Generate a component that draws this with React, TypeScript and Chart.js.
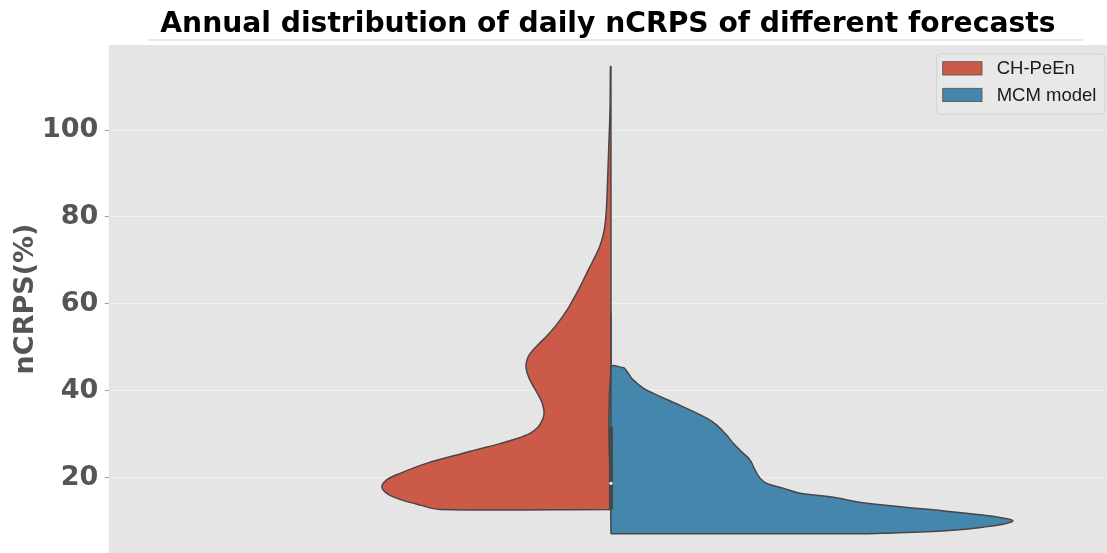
import React, { useEffect, useRef } from 'react';
import { Chart, registerables } from 'chart.js';

Chart.register(...registerables);

// ---- data ----
const yTickValues = [20, 40, 60, 80, 100];
const seriesNames = ['CH-PeEn', 'MCM model'];
const seriesColors = ['#CC5A49', '#4586AC'];

// CH-PeEn half-violin outline (left side): nCRPS level and scaled density
const chPeEnLevels = [12.7, 12.7, 13.7, 15.0, 16.4, 17.9, 19.5, 21.0, 23.3, 25.6, 26.4, 27.9, 29.0, 30.2, 31.5, 32.9, 34.3, 35.6, 37.3, 39.0, 40.8, 42.5, 44.0, 45.5, 47.0, 48.3, 49.6, 50.9, 52.8, 54.7, 57.0, 59.3, 61.3, 63.2, 65.5, 68.5, 70.8, 73.1, 75.4, 77.7, 81.6, 89.3, 96.9, 104.6, 110.0, 114.6, 114.6, 12.7];
const chPeEnDensity = [0, 0.747, 0.834, 0.921, 0.979, 1.0, 0.979, 0.921, 0.805, 0.646, 0.59, 0.48, 0.41, 0.354, 0.321, 0.303, 0.293, 0.293, 0.301, 0.317, 0.336, 0.354, 0.365, 0.371, 0.367, 0.356, 0.336, 0.312, 0.277, 0.245, 0.212, 0.183, 0.162, 0.142, 0.12, 0.092, 0.07, 0.05, 0.036, 0.027, 0.02, 0.014, 0.009, 0.004, 0.003, 0.002, 0, 0];

// MCM model half-violin outline (right side)
const mcmLevels = [7.1, 7.1, 7.3, 7.6, 8.0, 8.6, 9.3, 10.1, 10.8, 11.4, 12.6, 14.1, 15.6, 16.4, 17.6, 18.7, 19.9, 21.8, 24.1, 25.6, 27.9, 29.8, 32.1, 33.7, 36.3, 39.4, 40.6, 42.5, 44.0, 45.0, 45.3, 45.3, 7.1];
const mcmDensity = [0, 1.092, 1.232, 1.406, 1.52, 1.624, 1.712, 1.755, 1.703, 1.624, 1.406, 1.118, 0.956, 0.825, 0.752, 0.68, 0.651, 0.629, 0.607, 0.578, 0.534, 0.505, 0.462, 0.418, 0.316, 0.185, 0.141, 0.097, 0.076, 0.062, 0.055, 0, 0];

// inner box (combined)
const boxRange = [12.7, 31.7];
const whiskerRange = [31.7, 57.9];
const medianValue = [18.7];

const OUTLINE = '#474747';

const decorPlugin = {
  id: 'decor',
  beforeDraw(chart: any) {
    const { ctx, chartArea: a, width, height } = chart;
    ctx.save();
    ctx.fillStyle = '#ffffff';
    ctx.fillRect(0, 0, width, height);
    ctx.fillStyle = '#e5e5e5';
    ctx.fillRect(a.left, a.top, a.right - a.left, a.bottom - a.top);
    ctx.strokeStyle = '#e2e2e2';
    ctx.lineWidth = 1.5;
    ctx.beginPath();
    ctx.moveTo(a.left + 39.3, a.top - 5);
    ctx.lineTo(a.right - 24, a.top - 5);
    ctx.stroke();
    ctx.restore();
  },
  afterDraw(chart: any) {
    const { ctx, chartArea: a } = chart;
    const bw = 168.3;
    const bh = 60;
    const bx = a.right - bw - 2;
    const by = a.top + 9;
    ctx.save();
    ctx.beginPath();
    (ctx as any).roundRect(bx, by, bw, bh, 4);
    ctx.fillStyle = '#e8e8e8';
    ctx.fill();
    ctx.strokeStyle = '#d2d2d2';
    ctx.lineWidth = 1;
    ctx.stroke();
    seriesNames.forEach((name, i) => {
      const sy = by + 7.7 + i * 26.6;
      ctx.fillStyle = seriesColors[i];
      ctx.fillRect(bx + 6, sy, 39.3, 13.3);
      ctx.strokeStyle = '#505050';
      ctx.lineWidth = 0.8;
      ctx.strokeRect(bx + 6, sy, 39.3, 13.3);
      ctx.fillStyle = '#1a1a1a';
      ctx.font = '18.5px "Liberation Sans", Arial, sans-serif';
      ctx.textBaseline = 'middle';
      ctx.textAlign = 'left';
      ctx.fillText(name, bx + 60, sy + 7.2);
    });
    ctx.restore();
  },
};

const zeroPadding = (scale: any) => {
  scale.paddingTop = 0;
  scale.paddingBottom = 0;
  scale.paddingLeft = 0;
  scale.paddingRight = 0;
};

export default function App() {
  const ref = useRef<HTMLCanvasElement | null>(null);

  useEffect(() => {
    document.body.style.margin = '0';
    const canvas = ref.current;
    if (!canvas) return;

    const redData = chPeEnLevels.map((v, i) => ({ x: -chPeEnDensity[i], y: v }));
    const blueData = mcmLevels.map((v, i) => ({ x: mcmDensity[i], y: v }));

    const chart = new Chart(canvas, {
      type: 'line',
      data: {
        datasets: [
          {
            label: 'median',
            data: medianValue.map((v) => ({ x: 0, y: v })),
            showLine: false,
            pointRadius: 1.6,
            pointBackgroundColor: '#ffffff',
            pointBorderWidth: 0,
            order: 0,
          },
          {
            label: 'box',
            data: boxRange.map((v) => ({ x: 0, y: v })),
            borderColor: OUTLINE,
            borderWidth: 4,
            borderCapStyle: 'butt',
            pointRadius: 0,
            fill: false,
            order: 1,
          },
          {
            label: 'whisker',
            data: whiskerRange.map((v) => ({ x: 0, y: v })),
            borderColor: OUTLINE,
            borderWidth: 1.5,
            pointRadius: 0,
            fill: false,
            order: 2,
          },
          {
            label: seriesNames[1],
            data: blueData,
            borderColor: OUTLINE,
            borderWidth: 1.5,
            backgroundColor: seriesColors[1],
            fill: 'shape',
            pointRadius: 0,
            tension: 0.4,
            order: 3,
          },
          {
            label: seriesNames[0],
            data: redData,
            borderColor: OUTLINE,
            borderWidth: 1.5,
            backgroundColor: seriesColors[0],
            fill: 'shape',
            pointRadius: 0,
            tension: 0.35,
            order: 4,
          },
        ] as any,
      },
      options: {
        responsive: false,
        animation: false,
        events: [],
        layout: { padding: 0, autoPadding: false },
        plugins: {
          legend: { display: false },
          tooltip: { enabled: false },
          title: {
            display: true,
            fullSize: false,
            text: 'Annual distribution of daily nCRPS of different forecasts',
            color: '#000000',
            font: { family: '"DejaVu Sans", sans-serif', size: 28.2, weight: 'bold' },
            padding: { top: 7.3, bottom: 3.86 },
          },
        },
        scales: {
          x: {
            type: 'linear',
            display: false,
            min: -2.193,
            max: 2.166,
            afterFit: zeroPadding,
          },
          y: {
            type: 'linear',
            min: 2.67,
            max: 119.56,
            afterFit: (scale: any) => {
              zeroPadding(scale);
              scale.width = 108.7;
            },
            afterBuildTicks: (scale: any) => {
              scale.ticks = yTickValues.map((v) => ({ value: v }));
            },
            ticks: {
              color: '#555555',
              padding: 6.4,
              font: { family: '"DejaVu Sans", sans-serif', size: 27, weight: 'bold' },
            },
            grid: {
              color: '#f1f1f1',
              lineWidth: 1,
              tickLength: 4,
              tickColor: '#a0a0a0',
            },
            border: { display: false },
            title: {
              display: true,
              text: 'nCRPS(%)',
              color: '#555555',
              font: { family: '"DejaVu Sans", sans-serif', size: 27, weight: 'bold' },
              padding: { top: 10, bottom: 0 },
            },
          },
        },
      },
      plugins: [decorPlugin],
    } as any);

    return () => chart.destroy();
  }, []);

  return (
    <div style={{ width: 1107, height: 553 }}>
      <canvas ref={ref} width={1107} height={553} style={{ display: 'block', width: 1107, height: 553 }} />
    </div>
  );
}
